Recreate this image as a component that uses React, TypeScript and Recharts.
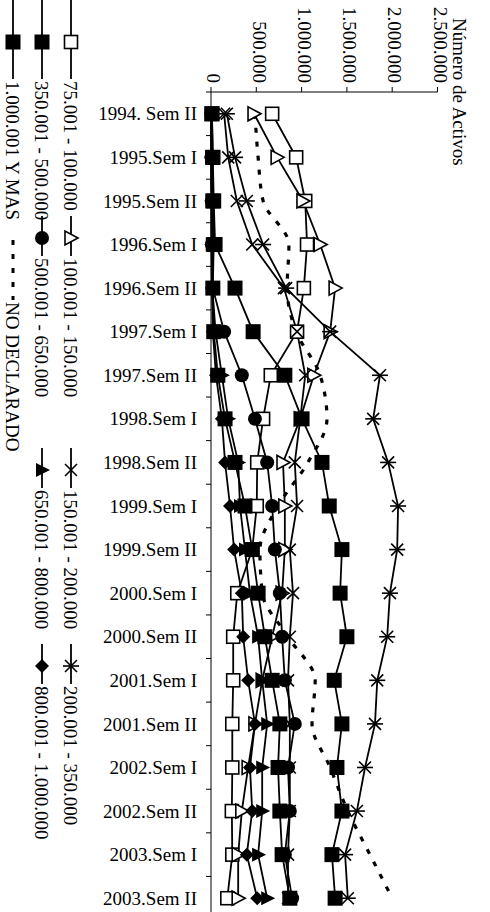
import React from 'react';
import { LineChart, Line, XAxis, YAxis } from 'recharts';

// Semesters on the category axis (drawn top to bottom)
const PERIODS = [
  '1994. Sem II', '1995.Sem I', '1995.Sem II', '1996.Sem I', '1996.Sem II',
  '1997.Sem I', '1997.Sem II', '1998.Sem I', '1998.Sem II', '1999.Sem I',
  '1999.Sem II', '2000.Sem I', '2000.Sem II', '2001.Sem I', '2001.Sem II',
  '2002.Sem I', '2002.Sem II', '2003.Sem I', '2003.Sem II',
];

const VALUE_TICKS = [0, 500000, 1000000, 1500000, 2000000, 2500000];

// one array per bracket
const R75_100 = [675000, 940000, 1040000, 1060000, 1025000, 950000, 660000, 575000, 510000, 505000, 455000, 290000, 245000, 245000, 235000, 235000, 230000, 235000, 180000];
const R100_150 = [475000, 730000, 1015000, 1205000, 1370000, 1315000, 1135000, 985000, 795000, 815000, 815000, 785000, 675000, 565000, 485000, 410000, 340000, 300000, 300000];
const R150_200 = [145000, 190000, 285000, 455000, 805000, 950000, 1040000, 985000, 925000, 950000, 870000, 905000, 870000, 850000, 870000, 870000, 870000, 850000, 850000];
const R200_350 = [175000, 265000, 395000, 575000, 830000, 1315000, 1865000, 1790000, 1955000, 2065000, 2055000, 1975000, 1945000, 1835000, 1810000, 1700000, 1610000, 1480000, 1510000];
const R350_500 = [10000, 20000, 20000, 30000, 20000, 30000, 75000, 155000, 265000, 375000, 455000, 520000, 595000, 675000, 760000, 740000, 760000, 785000, 870000];
const R500_650 = [5000, 5000, 10000, 10000, 20000, 145000, 340000, 485000, 620000, 675000, 705000, 760000, 785000, 815000, 925000, 850000, 870000, 815000, 895000];
const R650_800 = [3000, 3000, 8000, 8000, 15000, 50000, 120000, 190000, 300000, 320000, 375000, 430000, 520000, 565000, 620000, 565000, 565000, 520000, 620000];
const R800_1000 = [2000, 2000, 3000, 5000, 10000, 20000, 55000, 120000, 155000, 210000, 255000, 340000, 355000, 410000, 485000, 430000, 455000, 395000, 510000];
const R1000_MAS = [10000, 20000, 30000, 45000, 265000, 465000, 815000, 1005000, 1225000, 1305000, 1445000, 1425000, 1500000, 1360000, 1445000, 1390000, 1445000, 1335000, 1370000];
const NO_DECLARADO = [485000, 520000, 575000, 860000, 840000, 940000, 1205000, 1280000, 1070000, 740000, 540000, 565000, 850000, 1150000, 1115000, 1315000, 1510000, 1755000, 2000000];

const SERIES = [
  { key: 'r1', name: '75.001 - 100.000', values: R75_100, marker: 'openSquare' },
  { key: 'r2', name: '100.001 - 150.000', values: R100_150, marker: 'openTriangle' },
  { key: 'r3', name: '150.001 - 200.000', values: R150_200, marker: 'cross' },
  { key: 'r4', name: '200.001 - 350.000', values: R200_350, marker: 'star' },
  { key: 'r5', name: '350.001 - 500.000', values: R350_500, marker: 'square' },
  { key: 'r6', name: '500.001 - 650.000', values: R500_650, marker: 'circle' },
  { key: 'r7', name: '650.001 - 800.000', values: R650_800, marker: 'triangle' },
  { key: 'r8', name: '800.001 - 1.000.000', values: R800_1000, marker: 'diamond' },
  { key: 'r9', name: '1.000.001 Y MAS', values: R1000_MAS, marker: 'square' },
];

const data = PERIODS.map((period, i) => {
  const row: any = { period, nd: NO_DECLARADO[i] };
  SERIES.forEach((s) => {
    row[s.key] = s.values[i];
  });
  return row;
});

const FONT = '"Liberation Serif", "Times New Roman", serif';
const W = 490;
const H = 930;
const TOP = 92;
const LEFT = 211;
const RIGHT = 52.5;
const BOTTOM = 10;
const HALF_BAND = (H - TOP - BOTTOM) / PERIODS.length / 2;

const fmt = (v: number) => String(v).replace(/\B(?=(\d{3})+(?!\d))/g, '.');

const Marker = ({ shape, cx, cy }: { shape: string; cx: number; cy: number }) => {
  const s = 1.6;
  switch (shape) {
    case 'openSquare':
      return <rect x={cx - 6.5} y={cy - 6.5} width={13} height={13} fill="#fff" stroke="#000" strokeWidth={s} />;
    case 'openTriangle':
      return <polygon points={`${cx - 6},${cy - 7} ${cx - 6},${cy + 7} ${cx + 7},${cy}`} fill="#fff" stroke="#000" strokeWidth={s} />;
    case 'cross':
      return (
        <g stroke="#000" strokeWidth={s}>
          <line x1={cx - 6} y1={cy - 6} x2={cx + 6} y2={cy + 6} />
          <line x1={cx - 6} y1={cy + 6} x2={cx + 6} y2={cy - 6} />
        </g>
      );
    case 'star':
      return (
        <g stroke="#000" strokeWidth={s}>
          <line x1={cx - 6} y1={cy - 6} x2={cx + 6} y2={cy + 6} />
          <line x1={cx - 6} y1={cy + 6} x2={cx + 6} y2={cy - 6} />
          <line x1={cx - 8} y1={cy} x2={cx + 8} y2={cy} />
        </g>
      );
    case 'square':
      return <rect x={cx - 7.5} y={cy - 7.5} width={15} height={15} fill="#000" />;
    case 'circle':
      return <circle cx={cx} cy={cy} r={7} fill="#000" />;
    case 'triangle':
      return <polygon points={`${cx - 6},${cy - 7} ${cx - 6},${cy + 7} ${cx + 8},${cy}`} fill="#000" />;
    case 'diamond':
      return <polygon points={`${cx},${cy - 7} ${cx + 7},${cy} ${cx},${cy + 7} ${cx - 7},${cy}`} fill="#000" />;
    default:
      return null;
  }
};

const renderDot = (shape: string) => (props: any) => (
  <Marker key={`${shape}-${props.index}`} shape={shape} cx={props.cx} cy={props.cy} />
);

const ValueTick = ({ x, y, payload }: any) => (
  <text
    x={x}
    y={y}
    dy="0.2em"
    textAnchor="end"
    transform={`rotate(90, ${x}, ${y})`}
    fontFamily={FONT}
    fontSize={19}
    fill="#000"
  >
    {fmt(payload.value)}
  </text>
);

const CategoryTick = ({ x, y, payload }: any) => (
  <g>
    <line x1={x + 9} x2={x + 14} y1={y - HALF_BAND} y2={y - HALF_BAND} stroke="#000" />
    <text x={x} y={y} dy="0.35em" textAnchor="end" fontFamily={FONT} fontSize={19} fill="#000">
      {payload.value}
    </text>
  </g>
);

// legend columns, rotated like the rest of the figure
const LEGEND_COLS = [71, 42, 13];
const LEGEND_STARTS = [81, 258, 490, 686];

const RotText = ({ x, y, children }: any) => (
  <text x={x} y={y} dy="0.35em" transform={`rotate(90, ${x}, ${y})`} fontFamily={FONT} fontSize={19} fill="#000">
    {children}
  </text>
);

const LegendItem = ({ x, start, first, shape, label }: any) => {
  const y1 = first ? 0 : start - 42;
  const my = first ? 42 : start - 20;
  return (
    <g>
      <line x1={x} x2={x} y1={y1} y2={start - 2} stroke="#000" strokeWidth={1.8} />
      <Marker shape={shape} cx={x} cy={my} />
      <RotText x={x} y={start}>{label}</RotText>
    </g>
  );
};

const Overlay = () => (
  <svg width={W} height={912} style={{ position: 'absolute', left: 0, top: 0, pointerEvents: 'none' }}>
    {SERIES.slice(0, 8).map((s, i) => (
      <LegendItem
        key={s.key}
        x={LEGEND_COLS[Math.floor(i / 4)]}
        start={LEGEND_STARTS[i % 4]}
        first={i % 4 === 0}
        shape={s.marker}
        label={s.name}
      />
    ))}
    <LegendItem x={LEGEND_COLS[2]} start={LEGEND_STARTS[0]} first shape={SERIES[8].marker} label={SERIES[8].name} />
    <line x1={LEGEND_COLS[2]} x2={LEGEND_COLS[2]} y1={240} y2={300} stroke="#000" strokeWidth={3} strokeDasharray="5 9" />
    <RotText x={LEGEND_COLS[2]} y={302}>NO DECLARADO</RotText>
    <RotText x={460} y={18}>Número de Activos</RotText>
  </svg>
);

export default function App() {
  return (
    <div style={{ position: 'fixed', left: 0, top: 0, width: W, height: 912, overflow: 'hidden', background: '#fff' }}>
      <LineChart
        width={W}
        height={H}
        data={data}
        layout="vertical"
        margin={{ top: 0, right: RIGHT, bottom: BOTTOM, left: 0 }}
      >
        <XAxis
          type="number"
          orientation="top"
          domain={[0, 2500000]}
          ticks={VALUE_TICKS}
          interval={0}
          height={TOP}
          tickSize={5}
          tickMargin={4}
          tick={<ValueTick />}
          axisLine={{ stroke: '#000' }}
          tickLine={{ stroke: '#000' }}
        />
        <YAxis
          type="category"
          dataKey="period"
          width={LEFT}
          tickSize={0}
          tickMargin={14}
          interval={0}
          padding={{ top: HALF_BAND, bottom: HALF_BAND }}
          tick={<CategoryTick />}
          axisLine={{ stroke: '#000' }}
        />
        {SERIES.map((s) => (
          <Line
            key={s.key}
            dataKey={s.key}
            name={s.name}
            type="linear"
            stroke="#000"
            strokeWidth={1.8}
            dot={renderDot(s.marker)}
            activeDot={false}
            isAnimationActive={false}
          />
        ))}
        <Line
          dataKey="nd"
          name="NO DECLARADO"
          type="monotone"
          stroke="#000"
          strokeWidth={3.2}
          strokeDasharray="5 9"
          dot={false}
          activeDot={false}
          isAnimationActive={false}
        />
      </LineChart>
      <Overlay />
    </div>
  );
}
